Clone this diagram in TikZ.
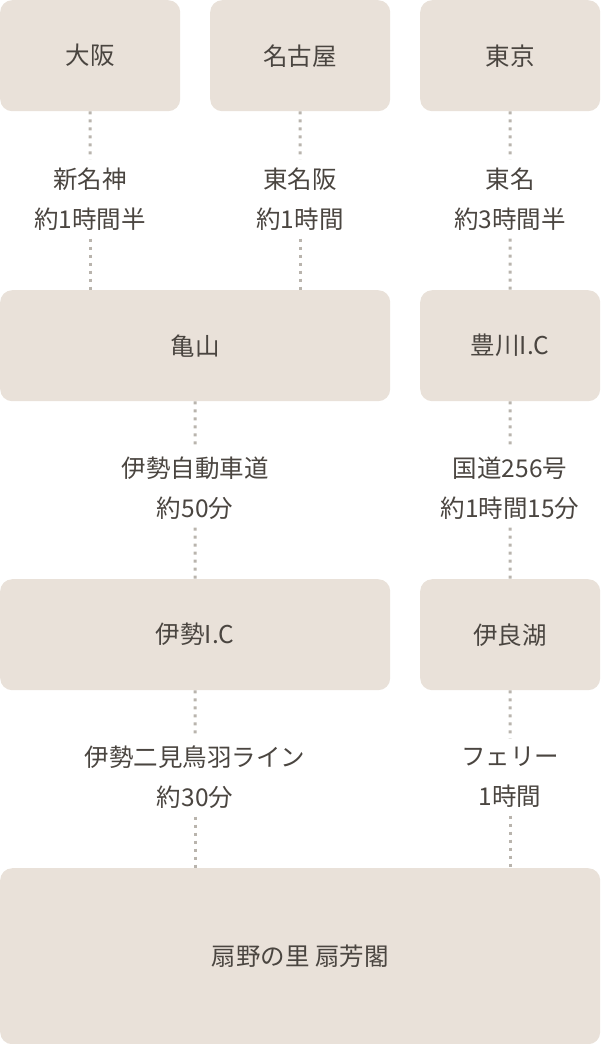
\documentclass[tikz,border=0pt]{standalone}
\usepackage{fontspec}
\newfontfamily\jpfont{Noto Sans CJK JP}
\definecolor{boxfill}{HTML}{E9E1D9}
\definecolor{txt}{HTML}{4A4540}
\definecolor{dotline}{HTML}{B9B4AD}
\begin{document}
\begin{tikzpicture}[x=1pt,y=-1pt,
  place/.style={rectangle,rounded corners=12pt,fill=boxfill,text=txt,
    font=\jpfont\fontsize{24.5}{28}\selectfont,anchor=north west,inner sep=0pt},
  route/.style={text=txt,font=\jpfont\fontsize{24.5}{40}\selectfont,align=center,inner sep=8pt},
  link/.style={dotline,line width=3pt,dash pattern=on 3pt off 5pt}]
\useasboundingbox (0,0) rectangle (600,1044);

\node[place,minimum width=180pt,minimum height=111pt] (osaka) at (0,0) {大阪};
\node[place,minimum width=180pt,minimum height=111pt] (nagoya) at (210,0) {名古屋};
\node[place,minimum width=180pt,minimum height=111pt] (tokyo) at (420,0) {東京};
\node[place,minimum width=390pt,minimum height=111pt] (kameyama) at (0,290) {亀山};
\node[place,minimum width=180pt,minimum height=111pt] (toyokawa) at (420,290) {豊川I.C};
\node[place,minimum width=390pt,minimum height=111pt] (iseic) at (0,579) {伊勢I.C};
\node[place,minimum width=180pt,minimum height=111pt] (irago) at (420,579) {伊良湖};
\node[place,minimum width=600pt,minimum height=176pt] (ougi) at (0,868) {扇野の里 扇芳閣};

\node[route] (r1) at (90,199) {新名神\\約1時間半};
\node[route] (r2) at (300,199) {東名阪\\約1時間};
\node[route] (r3) at (510,199) {東名\\約3時間半};
\node[route] (r4) at (195,488) {伊勢自動車道\\約50分};
\node[route] (r5) at (510,488) {国道256号\\約1時間15分};
\node[route] (r6) at (195,777) {伊勢二見鳥羽ライン\\約30分};
\node[route] (r7) at (510,777) {フェリー\\1時間};

\draw[link] (osaka.south) -- (r1);
\draw[link] (r1) -- (r1 |- kameyama.north);
\draw[link] (nagoya.south) -- (r2);
\draw[link] (r2) -- (r2 |- kameyama.north);
\draw[link] (tokyo.south) -- (r3);
\draw[link] (r3) -- (toyokawa.north);
\draw[link] (kameyama.south) -- (r4);
\draw[link] (r4) -- (iseic.north);
\draw[link] (toyokawa.south) -- (r5);
\draw[link] (r5) -- (irago.north);
\draw[link] (iseic.south) -- (r6);
\draw[link] (r6) -- (r6 |- ougi.north);
\draw[link] (irago.south) -- (r7);
\draw[link] (r7) -- (r7 |- ougi.north);
\end{tikzpicture}
\end{document}
